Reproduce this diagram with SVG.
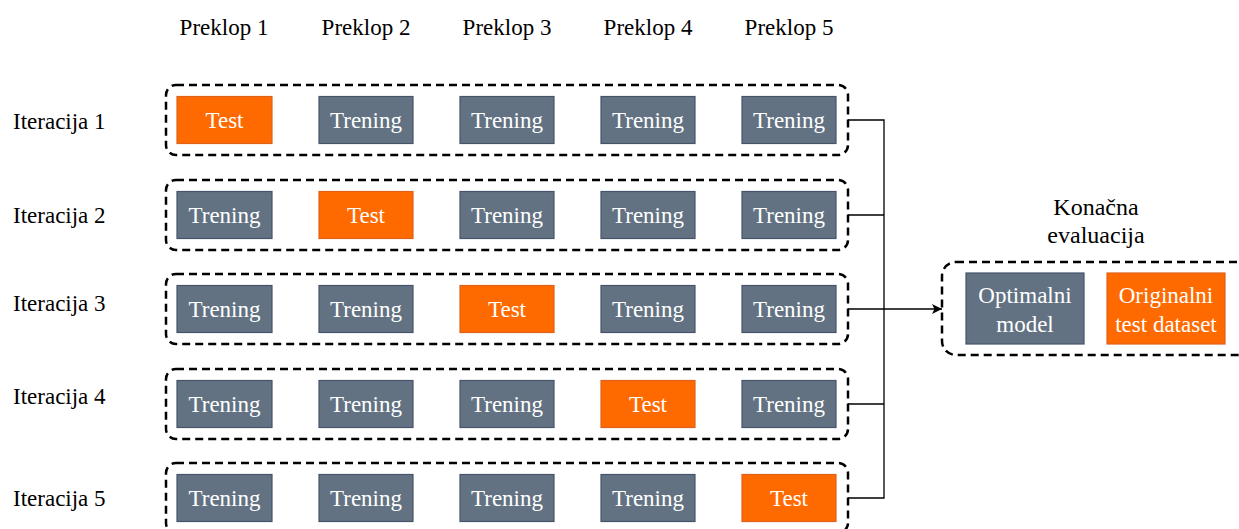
<svg xmlns="http://www.w3.org/2000/svg" width="1239" height="529" viewBox="0 0 1239 529">
<defs>
<style>
text{font-family:"Liberation Serif","Times New Roman",serif;}
.lbl{font-size:23px;fill:#000;}
.bt{font-size:23px;fill:#fff;text-anchor:middle;}
.tr{fill:#627283;stroke:#46546a;stroke-width:1.2;}
.ts{fill:#ff6a00;stroke:#e0621a;stroke-width:1.2;}
.grp{fill:none;stroke:#000;stroke-width:2.5;stroke-dasharray:8 5;}
.con{fill:none;stroke:#000;stroke-width:1.3;}
</style>
<marker id="arr" viewBox="0 0 10 10" refX="10" refY="5" markerWidth="10" markerHeight="10" markerUnits="userSpaceOnUse" orient="auto">
<path d="M0,0 L10,5 L0,10 L2.5,5 z" fill="#000"/>
</marker>
</defs>
<rect width="1239" height="529" fill="#fff"/>
<g id="headers">
<text class="lbl" x="224" y="35" text-anchor="middle">Preklop 1</text>
<text class="lbl" x="366" y="35" text-anchor="middle">Preklop 2</text>
<text class="lbl" x="507" y="35" text-anchor="middle">Preklop 3</text>
<text class="lbl" x="648" y="35" text-anchor="middle">Preklop 4</text>
<text class="lbl" x="789" y="35" text-anchor="middle">Preklop 5</text>
</g>
<g id="iter1">
<text class="lbl" x="13" y="129">Iteracija 1</text>
<rect class="grp" x="166" y="85" width="682" height="70" rx="10"/>
<rect class="ts" x="177" y="96.5" width="95" height="47"/><text class="bt" x="224.5" y="128">Test</text>
<rect class="tr" x="319" y="96.5" width="94" height="47"/><text class="bt" x="366" y="128">Trening</text>
<rect class="tr" x="460" y="96.5" width="94" height="47"/><text class="bt" x="507" y="128">Trening</text>
<rect class="tr" x="601" y="96.5" width="94" height="47"/><text class="bt" x="648" y="128">Trening</text>
<rect class="tr" x="742" y="96.5" width="94" height="47"/><text class="bt" x="789" y="128">Trening</text>
</g>
<g id="iter2">
<text class="lbl" x="13" y="223">Iteracija 2</text>
<rect class="grp" x="166" y="180" width="682" height="70" rx="10"/>
<rect class="tr" x="177" y="191.5" width="95" height="47"/><text class="bt" x="224.5" y="223">Trening</text>
<rect class="ts" x="319" y="191.5" width="94" height="47"/><text class="bt" x="366" y="223">Test</text>
<rect class="tr" x="460" y="191.5" width="94" height="47"/><text class="bt" x="507" y="223">Trening</text>
<rect class="tr" x="601" y="191.5" width="94" height="47"/><text class="bt" x="648" y="223">Trening</text>
<rect class="tr" x="742" y="191.5" width="94" height="47"/><text class="bt" x="789" y="223">Trening</text>
</g>
<g id="iter3">
<text class="lbl" x="13" y="311">Iteracija 3</text>
<rect class="grp" x="166" y="274" width="682" height="70" rx="10"/>
<rect class="tr" x="177" y="285.5" width="95" height="47"/><text class="bt" x="224.5" y="317">Trening</text>
<rect class="tr" x="319" y="285.5" width="94" height="47"/><text class="bt" x="366" y="317">Trening</text>
<rect class="ts" x="460" y="285.5" width="94" height="47"/><text class="bt" x="507" y="317">Test</text>
<rect class="tr" x="601" y="285.5" width="94" height="47"/><text class="bt" x="648" y="317">Trening</text>
<rect class="tr" x="742" y="285.5" width="94" height="47"/><text class="bt" x="789" y="317">Trening</text>
</g>
<g id="iter4">
<text class="lbl" x="13" y="404">Iteracija 4</text>
<rect class="grp" x="166" y="369" width="682" height="70" rx="10"/>
<rect class="tr" x="177" y="380.5" width="95" height="47"/><text class="bt" x="224.5" y="412">Trening</text>
<rect class="tr" x="319" y="380.5" width="94" height="47"/><text class="bt" x="366" y="412">Trening</text>
<rect class="tr" x="460" y="380.5" width="94" height="47"/><text class="bt" x="507" y="412">Trening</text>
<rect class="ts" x="601" y="380.5" width="94" height="47"/><text class="bt" x="648" y="412">Test</text>
<rect class="tr" x="742" y="380.5" width="94" height="47"/><text class="bt" x="789" y="412">Trening</text>
</g>
<g id="iter5">
<text class="lbl" x="13" y="506">Iteracija 5</text>
<rect class="grp" x="166" y="463" width="682" height="70" rx="10"/>
<rect class="tr" x="177" y="474.5" width="95" height="47"/><text class="bt" x="224.5" y="506">Trening</text>
<rect class="tr" x="319" y="474.5" width="94" height="47"/><text class="bt" x="366" y="506">Trening</text>
<rect class="tr" x="460" y="474.5" width="94" height="47"/><text class="bt" x="507" y="506">Trening</text>
<rect class="tr" x="601" y="474.5" width="94" height="47"/><text class="bt" x="648" y="506">Trening</text>
<rect class="ts" x="742" y="474.5" width="94" height="47"/><text class="bt" x="789" y="506">Test</text>
</g>
<g id="final">
<text class="lbl" x="1096" y="215" text-anchor="middle" style="font-size:24px">Konačna</text>
<text class="lbl" x="1096" y="243" text-anchor="middle" style="font-size:24px">evaluacija</text>
<rect class="grp" x="942" y="262" width="310" height="93" rx="14"/>
<rect class="tr" x="966" y="273" width="118" height="71"/>
<text class="bt" x="1025" y="303">Optimalni</text><text class="bt" x="1025" y="332">model</text>
<rect class="ts" x="1107" y="273" width="118" height="71"/>
<text class="bt" x="1166" y="303">Originalni</text><text class="bt" x="1166" y="332">test dataset</text>
</g>
<g id="connectors">
<polyline class="con" points="848,120 884,120 884,498 848,498"/>
<line class="con" x1="848" y1="215" x2="884" y2="215"/>
<line class="con" x1="848" y1="404" x2="884" y2="404"/>
<line class="con" x1="848" y1="309" x2="942" y2="309" marker-end="url(#arr)"/>
</g>
</svg>
